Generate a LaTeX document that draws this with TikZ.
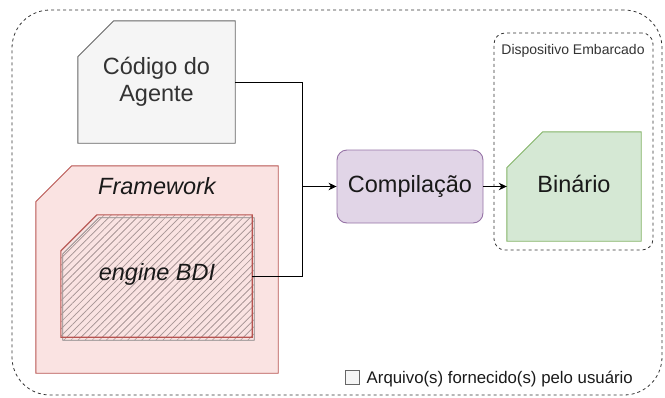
\documentclass[tikz,border=0pt]{standalone}
\usepackage{fontspec}
\setmainfont{Liberation Sans}
\usetikzlibrary{arrows.meta,patterns.meta,backgrounds}

\definecolor{cardfill}{HTML}{F5F5F5}
\definecolor{cardline}{HTML}{666666}
\definecolor{cardtext}{HTML}{333333}
\definecolor{redfill}{HTML}{FAE3E2}
\definecolor{redline}{HTML}{B85450}
\definecolor{hatch}{HTML}{AA9898}
\definecolor{purplefill}{HTML}{E1D5E7}
\definecolor{purpleline}{HTML}{9673A6}
\definecolor{greenfill}{HTML}{D5E8D4}
\definecolor{greenline}{HTML}{82B366}
\definecolor{frameline}{HTML}{333333}

% outline of a box whose top-left corner is cut off
\newcommand\cutcorner[2]{([yshift=-#2]#1.north west) -- ([xshift=#2]#1.north west) -- (#1.north east) -- (#1.south east) -- (#1.south west) -- cycle}

\begin{document}
\begin{tikzpicture}[x=1pt,y=-1pt,
  area/.style={inner sep=0pt, draw=none},
  big/.style={font=\fontsize{23.5}{27.5}\selectfont, align=center, inner sep=0pt},
  dashline/.style={draw=frameline, line width=0.8pt, dash pattern=on 3pt off 3pt},
  link/.style={draw=black, line width=1pt},
  tip/.style={-{Stealth[length=8pt,width=7.5pt,inset=2.5pt]}},
  hatched/.style={pattern={Lines[angle=45,distance=5pt,line width=0.5pt]}, pattern color=hatch},
]
\useasboundingbox (0,0) rectangle (665,397);

% outer frame and device frame
\node[area, dashline, rounded corners=38pt, minimum width=650pt, minimum height=385pt] (frame) at (337,202.5) {};
\node[area, dashline, rounded corners=11pt, minimum width=159pt, minimum height=217pt] (dev) at (573.5,141.5) {};
\node[inner sep=0pt, anchor=base, font=\fontsize{14}{16}\selectfont, text=frameline] (devlabel) at (573,54) {Dispositivo Embarcado};

% boxes
\node[area, big, text=cardtext, minimum width=157pt, minimum height=122pt] (cod) at (156.5,82) {Código do\\Agente};
\node[area, minimum width=242pt, minimum height=207pt] (fw) at (157,269.5) {};
\node[inner sep=0pt, anchor=base, font=\fontsize{23.5}{27.5}\selectfont\itshape, text=black!90] (fwtitle) at (157,194.3) {Framework};
\node[area, minimum width=191pt, minimum height=122pt] (bdi) at (156.5,276) {};
\node[inner sep=0pt, anchor=base, font=\fontsize{23.5}{27.5}\selectfont\itshape, text=black!90] (bditext) at (157,280.7) {engine BDI};
\node[big, draw=purpleline, fill=purplefill, line width=0.9pt, rounded corners=10pt, minimum width=146pt, minimum height=73pt, text=black!90] (comp) at (410,186.5) {Compilação};
\node[area, big, text=black!90, text height=17pt, text depth=5pt, minimum width=134pt, minimum height=109pt] (bin) at (574,186.5) {Binário};

% legend
\node[draw=cardline, fill=cardfill, line width=0.8pt, inner sep=0pt, minimum size=14pt] (key) at (352,377) {};
\node[inner sep=0pt, anchor=base west, font=\fontsize{16.8}{19}\selectfont, text=black!90] (keytext) at (366.5,383) {Arquivo(s) fornecido(s) pelo usuário};

% shaped outlines behind the texts
\begin{scope}[on background layer]
  \draw[draw=cardline, fill=cardfill, line width=0.9pt] \cutcorner{cod}{36pt};
  \draw[draw=redline, fill=redfill, line width=0.9pt] \cutcorner{fw}{36pt};
  % offset sketch copy of the engine box
  \begin{scope}[transform canvas={shift={(2pt,-3pt)}}]
    \fill[hatched] \cutcorner{bdi}{36pt};
    \draw[draw=cardline!80, line width=0.8pt] \cutcorner{bdi}{36pt};
  \end{scope}
  \fill[hatched] \cutcorner{bdi}{36pt};
  \draw[draw=redline, line width=1.1pt] \cutcorner{bdi}{36pt};
  \draw[draw=greenline, fill=greenfill, line width=0.9pt] \cutcorner{bin}{36pt};
\end{scope}

% connectors
\coordinate (join) at (302,186.5);
\draw[link, tip] (cod.east) -| (join) -- (comp.west);
\draw[link] (bdi.east) -| (join);
\draw[link, tip] (comp.east) -- (bin.west);
\end{tikzpicture}
\end{document}
